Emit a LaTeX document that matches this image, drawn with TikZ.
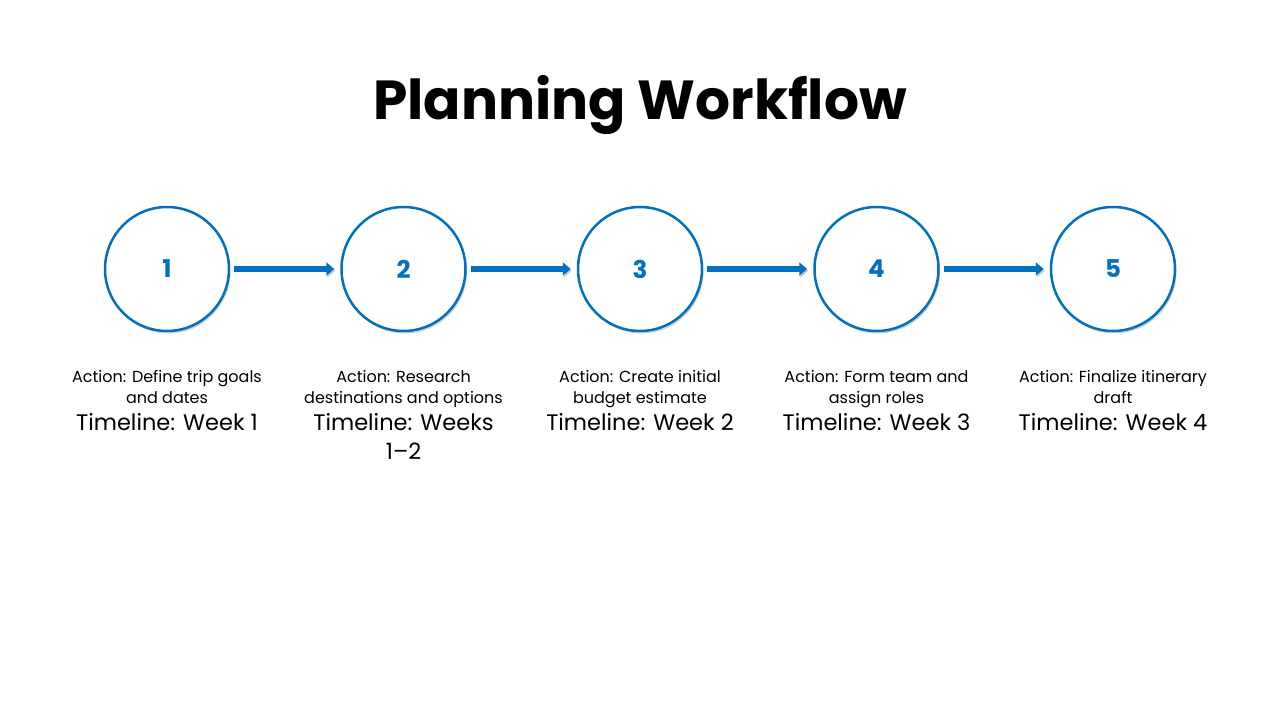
\documentclass[tikz,border=0pt]{standalone}
\usepackage{fontspec}
\setmainfont{Poppins}
\usetikzlibrary{positioning,shadows,arrows.meta}
\definecolor{stepBlue}{HTML}{0070C0}

\begin{document}
\begin{tikzpicture}[x=1pt,y=-1pt,
    stepcircle/.style={circle, draw=stepBlue, line width=2.5pt, fill=white,
      minimum size=124pt, inner sep=0pt, text=stepBlue,
      font=\fontsize{24.5}{28}\selectfont\bfseries,
      drop shadow={shadow xshift=1.5pt, shadow yshift=-2.5pt, opacity=0.3, fill=black!60}},
    steparrow/.style={line width=6pt, draw=stepBlue, shorten <=4pt, shorten >=6pt,
      -{Triangle[length=8pt, width=13pt]},
      preaction={draw=black!20, transform canvas={shift={(1pt,-2pt)}}}},
    actiontext/.style={align=center, inner sep=0pt, anchor=north, font=\fontsize{16}{21}\selectfont},
    timetext/.style={align=center, inner sep=0pt, anchor=north, font=\fontsize{22.5}{29}\selectfont}]
    \useasboundingbox (0,0) rectangle (1280,720);
    \node[font=\fontsize{55}{60}\selectfont\bfseries, anchor=base] (title) at (640,119) {Planning Workflow};
    % steps
    \node[stepcircle] (c1) at (167,269) {1};
    \node[stepcircle] (c2) at (403.5,269) {2};
    \node[stepcircle] (c3) at (640,269) {3};
    \node[stepcircle] (c4) at (876.5,269) {4};
    \node[stepcircle] (c5) at (1113,269) {5};
    \foreach \a/\b in {c1/c2,c2/c3,c3/c4,c4/c5}
      \draw[steparrow] (\a) -- (\b);
    % labels
    \foreach \c/\act/\tim in {1/{Action: Define trip goals\\and dates}/{Timeline: Week 1},
        2/{Action: Research\\destinations and options}/{Timeline: Weeks\\1–2},
        3/{Action: Create initial\\budget estimate}/{Timeline: Week 2},
        4/{Action: Form team and\\assign roles}/{Timeline: Week 3},
        5/{Action: Finalize itinerary\\draft}/{Timeline: Week 4}} {
      \node[actiontext] (a\c) at ([yshift=-38pt]c\c.south) {\act};
      \node[timetext] (t\c) at ([yshift=-81pt]c\c.south) {\tim};
    }
\end{tikzpicture}
\end{document}
